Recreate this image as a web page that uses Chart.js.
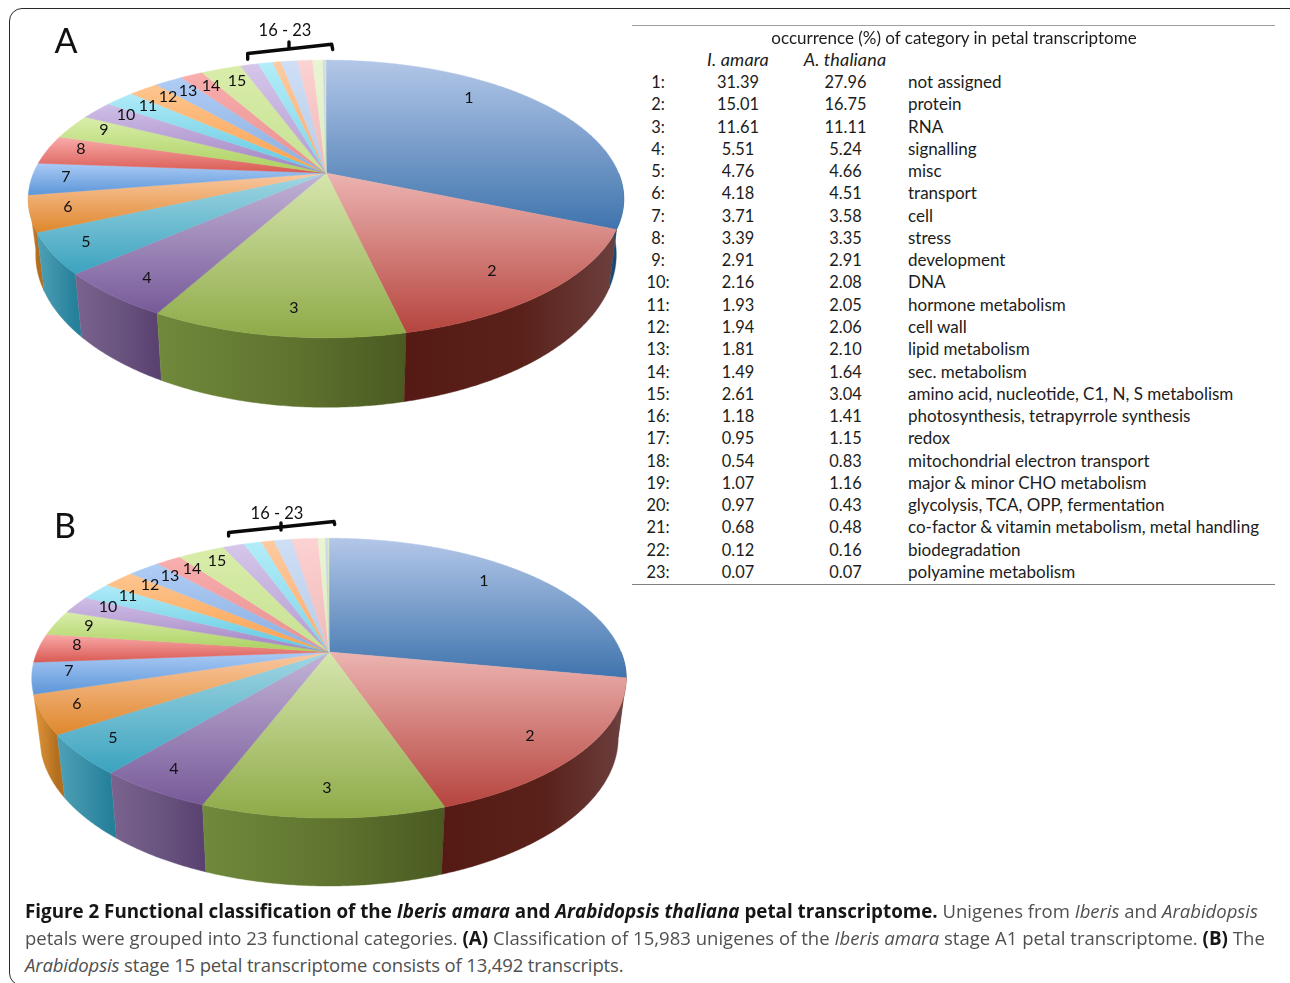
<!DOCTYPE html>
<html>
<head>
<meta charset="utf-8">
<title>Functional classification of petal transcriptomes</title>
<script src="https://cdn.jsdelivr.net/npm/chart.js@4/dist/chart.umd.min.js"></script>
<style>
  html, body { margin: 0; padding: 0; background: #fff; width: 1290px; height: 983px; overflow: hidden; }
  #frame { position: absolute; left: 9px; top: 8px; width: 1400px; height: 978px; border: 1.5px solid #2a2a2a; border-radius: 13px; box-sizing: border-box; }
  canvas { position: absolute; left: 0; }
  .t { position: absolute; white-space: nowrap; font-family: Lato, sans-serif; font-size: 17px; color: #1c1c1c; line-height: 20px; }
  .n { font-size: 16.4px; }
  .h { font-size: 18px; font-style: italic; letter-spacing: 0.15px; margin-top: -1px; }
  .c { transform: translateX(-50%); }
  .rule { position: absolute; left: 632px; width: 643px; height: 1px; }
  .cap { position: absolute; left: 25px; white-space: nowrap; font-family: "Open Sans", sans-serif; font-size: 18.5px; line-height: 26px; color: #505050; font-weight: 400; }
  .cap b { color: #161616; font-weight: 700; font-size: 18.8px; }
</style>
</head>
<body>
<div id="frame"></div>
<canvas id="pieA" width="640" height="440" style="top:0"></canvas>
<canvas id="pieB" width="640" height="410" style="top:490px"></canvas>
<div id="table"></div>
<div class="cap" style="top:898px"><b>Figure 2 Functional classification of the <i>Iberis amara</i> and <i>Arabidopsis thaliana</i> petal transcriptome.</b> Unigenes from <i>Iberis</i> and <i>Arabidopsis</i></div>
<div class="cap" style="top:925px;letter-spacing:0.02px">petals were grouped into 23 functional categories. <b>(A)</b> Classification of 15,983 unigenes of the <i>Iberis amara</i> stage A1 petal transcriptome. <b>(B)</b> The</div>
<div class="cap" style="top:952px;letter-spacing:-0.14px"><i>Arabidopsis</i> stage 15 petal transcriptome consists of 13,492 transcripts.</div>
<script>
// Occurrence (%) of each functional category in the two petal transcriptomes.
const categories = [
  "not assigned", "protein", "RNA", "signalling", "misc", "transport", "cell", "stress",
  "development", "DNA", "hormone metabolism", "cell wall", "lipid metabolism", "sec. metabolism",
  "amino acid, nucleotide, C1, N, S metabolism", "photosynthesis, tetrapyrrole synthesis", "redox",
  "mitochondrial electron transport", "major & minor CHO metabolism", "glycolysis, TCA, OPP, fermentation",
  "co-factor & vitamin metabolism, metal handling", "biodegradation", "polyamine metabolism"
];
const iberisAmara = [31.39, 15.01, 11.61, 5.51, 4.76, 4.18, 3.71, 3.39, 2.91, 2.16, 1.93, 1.94, 1.81, 1.49, 2.61, 1.18, 0.95, 0.54, 1.07, 0.97, 0.68, 0.12, 0.07];
const arabidopsisThaliana = [27.96, 16.75, 11.11, 5.24, 4.66, 4.51, 3.58, 3.35, 2.91, 2.08, 2.05, 2.06, 2.10, 1.64, 3.04, 1.41, 1.15, 0.83, 1.16, 0.43, 0.48, 0.16, 0.07];
// The A. thaliana rows add up to 98.73 %; the pie still spans 100 %, so the share the
// table leaves out gets its own wedge after category 20, tinted like that category.
const arabidopsisUnlisted = 1.27;
const unlistedAfter = 19;
const sliceNumbers = ["1","2","3","4","5","6","7","8","9","10","11","12","13","14","15"];

// Top surface shading: light shade at the top of each slice, saturated shade at the bottom.
const faceLight = ["#b3c7e8", "#ecb4b1", "#d6e6ae", "#c3b4d6", "#a2d6e3", "#fac8a2", "#abcbf6", "#f9abaa", "#d9edaa", "#cfbfe8", "#b0ebf8", "#fdc690", "#afccf5", "#f9aeae", "#d9edaa", "#d5c6ea", "#b2edf9", "#fdcaa2", "#cedef5", "#fcd2d2", "#e9f5d2", "#cadaf1", "#dde9c2"];
const faceDeep  = ["#3f74ad", "#b6443e", "#8eaa48", "#775a99", "#3ba3bf", "#df872c", "#5c96d8", "#d95a53", "#aad05e", "#a283c0", "#5fc7e0", "#fca04e", "#8bafe0", "#e88f8f", "#c6e192", "#b49cd0", "#80d4e8", "#fcac68", "#b8cce8", "#f0b8b8", "#dcecc0", "#b8cce8", "#d0e0b0"];
// Rim shading, left to right across the visible side of the front slices.
const rimLeft  = ["#1b4870", "#551a14", "#70893c", "#7a648f", "#4ea1b6", "#e0953a"];
const rimMid   = ["#174168", "#5a211a", "#5f732e", "#69537f", "#398fa7", "#c9822c"];
const rimRight = ["#123a5e", "#6c403e", "#4a5a22", "#5a4270", "#25809a", "#b36e1e"];

// Where the slice numbers sit on each pie (page pixels).
const numberSpotsA = [[469,97],[492,270],[294,307],[147,277],[86,241],[68,206],[66,176],[81,148],[104,129],[126,114],[148,105],[168,96],[188,90],[211,85],[237,80]];
const numberSpotsB = [[484,580],[530,735],[327,787],[174,768],[113,737],[77,703],[69,670],[77,644],[89,625],[108,606],[128,595],[150,584],[170,575],[192,568],[217,560]];

// Tilted-disc view of each pie: a unit circle mapped through a perspective divide,
// with the lower rim offset and slightly shrunk.
const viewA = { cx: 326, cy: 173, rx: 292.5, ry: 134, persp: 0.187, rimScale: 0.975, rimTop: 226, rimSlope: 1.10,
  letter: "A", letterAt: [66, 42], group: [[247.7,59.3],[247.7,53.5],[331.7,44.3],[332.7,49.5]], groupTick: [[289,42],[289,49]], groupText: [285,31], number: numberSpotsA, pageTop: 0, tint: i => i, firstRim: null };
const viewB = { cx: 329, cy: 162, rx: 292, ry: 135, persp: 0.187, rimScale: 0.973, rimTop: 220, rimSlope: 1.06,
  letter: "B", letterAt: [65, 37], group: [[228.6,46],[228.6,42.5],[334,31.5],[334.7,34.5]], groupTick: [[281,33],[281,40]], groupText: [277,24], number: numberSpotsB, pageTop: 490,
  tint: i => i <= unlistedAfter ? i : i - 1, firstRim: "#6c403e" };

function project(view, a, r) {
  const u = Math.cos(a) * r, v = Math.sin(a) * r, w = 1 - view.persp * v;
  return [view.cx + view.rx * u / w, view.cy + view.ry * v / w];
}
function rimPoint(view, p) {
  return [view.cx + (p[0] - view.cx) * view.rimScale, view.rimTop + (p[1] - view.cy) * view.rimSlope];
}
function sweep(view, start, end) {
  const n = Math.max(2, Math.ceil((end - start) / 0.008)), pts = [];
  for (let i = 0; i <= n; i++) pts.push(project(view, start + (end - start) * i / n, 1));
  return pts;
}
function trace(ctx, pts) {
  ctx.beginPath();
  pts.forEach((p, i) => i ? ctx.lineTo(p[0], p[1]) : ctx.moveTo(p[0], p[1]));
  ctx.closePath();
}

// Replaces the flat arcs with the extruded disc, using the angles the pie controller computed.
const tiltedDisc = {
  id: "tiltedDisc",
  beforeDatasetsDraw(chart, args, opts) {
    const view = opts.view, ctx = chart.ctx, arcs = chart.getDatasetMeta(0).data;
    ctx.save();
    ctx.lineJoin = "round";
    // Side wall, back to front so that nearer slices overlap their neighbours.
    for (let i = rimLeft.length - 1; i >= 0; i--) {
      const arc = arcs[i];
      const top = sweep(view, arc.startAngle, arc.endAngle).filter(p => p[1] > view.cy);
      if (top.length < 2) continue;
      const low = top.map(p => rimPoint(view, p));
      const xs = top.map(p => p[0]);
      const g = ctx.createLinearGradient(Math.min(...xs), 0, Math.max(...xs), 0);
      if (i === 0 && view.firstRim) {
        g.addColorStop(0, view.firstRim);
        g.addColorStop(1, view.firstRim);
      } else {
        g.addColorStop(0, rimLeft[i]);
        g.addColorStop(0.55, rimMid[i]);
        g.addColorStop(1, rimRight[i]);
      }
      trace(ctx, top.concat(low.slice().reverse()));
      ctx.fillStyle = g; ctx.strokeStyle = g; ctx.lineWidth = 0.4;
      ctx.fill(); ctx.stroke();
    }
    // Top surface.
    arcs.forEach((arc, i) => {
      const pts = [[view.cx, view.cy]].concat(sweep(view, arc.startAngle, arc.endAngle));
      const ys = pts.map(p => p[1]);
      const g = ctx.createLinearGradient(0, Math.min(...ys), 0, Math.max(...ys));
      g.addColorStop(0, faceLight[view.tint(i)]);
      g.addColorStop(1, faceDeep[view.tint(i)]);
      trace(ctx, pts);
      ctx.fillStyle = g; ctx.strokeStyle = g; ctx.lineWidth = 0.5;
      ctx.fill(); ctx.stroke();
    });
    ctx.restore();
    return false;
  },
  afterDraw(chart, args, opts) {
    const view = opts.view, ctx = chart.ctx;
    ctx.save();
    ctx.fillStyle = "#111"; ctx.textAlign = "center"; ctx.textBaseline = "middle";
    ctx.font = "16px Lato, sans-serif";
    sliceNumbers.forEach((label, i) => {
      const spot = view.number[i];
      ctx.fillText(label, spot[0], spot[1] - view.pageTop + 1);
    });
    ctx.font = "16.5px Lato, sans-serif";
    ctx.fillText("16 - 23", view.groupText[0], view.groupText[1]);
    ctx.font = "34px Lato, sans-serif";
    ctx.fillText(view.letter, view.letterAt[0], view.letterAt[1]);
    ctx.strokeStyle = "#0a0a0a"; ctx.lineWidth = 3.4; ctx.lineJoin = "round"; ctx.lineCap = "round";
    ctx.beginPath();
    view.group.forEach((p, i) => i ? ctx.lineTo(p[0], p[1]) : ctx.moveTo(p[0], p[1]));
    ctx.moveTo(view.groupTick[0][0], view.groupTick[0][1]);
    ctx.lineTo(view.groupTick[1][0], view.groupTick[1][1]);
    ctx.stroke();
    ctx.restore();
  }
};

function pie(id, values, view) {
  return new Chart(document.getElementById(id), {
    type: "pie",
    data: { labels: values.map((_, i) => categories[view.tint(i)]), datasets: [{ data: values, backgroundColor: faceDeep, borderWidth: 0 }] },
    plugins: [tiltedDisc],
    options: {
      responsive: false, animation: false, events: [],
      plugins: { legend: { display: false }, tooltip: { enabled: false }, tiltedDisc: { view } }
    }
  });
}
pie("pieA", iberisAmara, viewA);
const arabidopsisWedges = arabidopsisThaliana.slice();
arabidopsisWedges.splice(unlistedAfter + 1, 0, arabidopsisUnlisted);
pie("pieB", arabidopsisWedges, viewB);

// Value table to the right of the pies.
const table = document.getElementById("table");
function put(text, x, y, cls) {
  const el = document.createElement("div");
  el.className = "t " + cls;
  el.textContent = text;
  el.style.left = x + "px";
  el.style.top = (y - 10) + "px";
  table.appendChild(el);
}
function rule(y, color) {
  const el = document.createElement("div");
  el.className = "rule";
  el.style.top = y + "px";
  el.style.background = color;
  table.appendChild(el);
}
rule(25, "#a0a0a0");
rule(584, "#808080");
put("occurrence (%) of category in petal transcriptome", 954, 38, "c");
put("I. amara", 738, 60, "c h");
put("A. thaliana", 845, 60, "c h");
categories.forEach((name, i) => {
  const y = Math.round(82 + i * 22.27);
  put((i + 1) + ":", 658, y, "c n");
  put(iberisAmara[i].toFixed(2), 738, y, "c n");
  put(arabidopsisThaliana[i].toFixed(2), 845.5, y, "c n");
  put(name, 908, y, "");
});
</script>
</body>
</html>
